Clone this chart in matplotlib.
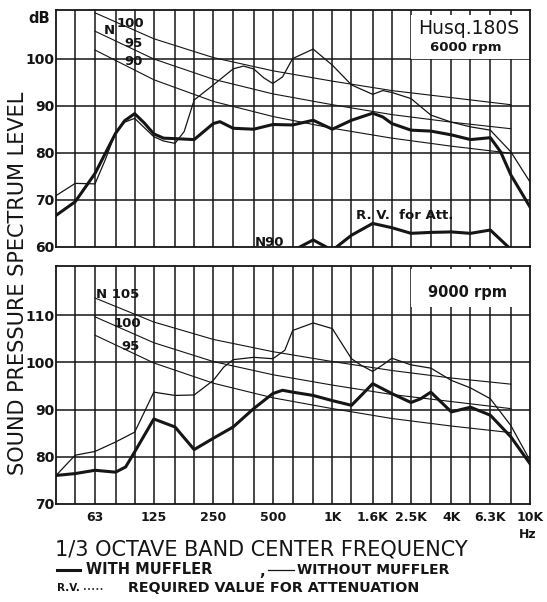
"""Husqvarna 180S 1/3 octave band spectra, with and without muffler."""

import matplotlib
matplotlib.use("Agg")
import matplotlib.pyplot as plt
from matplotlib import font_manager
from matplotlib.lines import Line2D
from matplotlib.patches import Rectangle
from matplotlib.ticker import NullLocator

W, H = 547, 602
INK = "#151515"

BANDS = [40, 50, 63, 80, 100, 125, 160, 200, 250, 315, 400, 500, 630, 800,
         1000, 1250, 1600, 2000, 2500, 3150, 4000, 5000, 6300, 8000, 10000]
TICK_FREQ = [63, 125, 250, 500, 1000, 1600, 2500, 4000, 6300, 10000]
TICK_TEXT = ["63", "125", "250", "500", "1K", "1.6K", "2.5K", "4K", "6.3K", "10K"]

# N curves (1/3 octave levels) at octave centres
OCT = [63, 125, 250, 500, 1000, 2000, 4000, 8000]
N90 = [101.8, 95.5, 90.9, 87.7, 85.2, 83.1, 81.4, 79.9]
N95 = [105.8, 99.9, 95.6, 92.5, 90.2, 88.1, 86.5, 85.1]
N100 = [109.7, 104.2, 100.2, 97.4, 95.2, 93.2, 91.7, 90.2]
N105 = [113.7, 108.6, 104.9, 102.3, 100.2, 98.3, 96.7, 95.4]

# 6000 rpm
TOP_WITH_F = [40, 50, 63, 80, 89, 100, 112, 125, 140, 160, 200, 250, 270, 315,
              400, 500, 630, 800, 1000, 1250, 1600, 1800, 2000, 2500, 3150,
              4000, 5000, 6300, 7100, 8000, 10000]
TOP_WITH_DB = [66.7, 69.6, 75.6, 84.1, 86.8, 88.3, 86.3, 84.0, 83.1, 83.0, 82.8,
               86.2, 86.6, 85.2, 85.0, 86.0, 85.9, 86.9, 85.0, 86.9, 88.4, 87.6,
               86.2, 84.8, 84.6, 83.8, 82.8, 83.2, 80.2, 75.3, 68.5]
TOP_WITHOUT_F = [40, 50, 63, 71, 80, 89, 100, 125, 140, 160, 178, 200, 250, 315,
                 355, 400, 450, 500, 560, 630, 800, 1000, 1250, 1600, 1800, 2000,
                 2500, 3150, 4000, 5000, 6300, 8000, 10000]
TOP_WITHOUT_DB = [70.9, 73.5, 73.4, 78.5, 84.3, 86.5, 87.3, 83.4, 82.5, 82.0,
                  84.5, 91.2, 94.4, 97.8, 98.4, 97.8, 95.9, 94.7, 96.1, 100.0,
                  102.0, 98.6, 94.4, 92.4, 93.2, 92.8, 91.5, 88.0, 86.5, 85.5,
                  84.8, 80.2, 73.8]
RV_F = [630, 800, 1000, 1250, 1600, 2000, 2500, 3150, 4000, 5000, 6300, 8000]
RV_DB = [59.2, 61.5, 59.3, 62.5, 65.0, 64.1, 62.9, 63.1, 63.2, 62.9, 63.6, 59.5]

# 9000 rpm
BOT_WITH_F = [40, 50, 63, 80, 90, 100, 125, 160, 200, 250, 315, 400, 500, 560,
              630, 800, 1000, 1250, 1400, 1600, 2000, 2500, 2800, 3150, 4000,
              5000, 6300, 8000, 10000]
BOT_WITH_DB = [76.0, 76.4, 77.1, 76.7, 77.8, 81.0, 88.0, 86.3, 81.5, 83.9, 86.3,
               90.2, 93.4, 94.1, 93.7, 93.0, 91.9, 90.9, 93.0, 95.5, 93.4, 91.5,
               92.3, 93.7, 89.5, 90.5, 88.8, 84.2, 78.5]
BOT_WITHOUT_F = [40, 50, 63, 80, 100, 112, 125, 160, 200, 250, 282, 315, 400,
                 500, 575, 630, 800, 1000, 1250, 1400, 1600, 1800, 2000, 2500,
                 3150, 4000, 5000, 6300, 8000, 10000]
BOT_WITHOUT_DB = [76.0, 80.3, 81.1, 83.1, 85.2, 89.5, 93.7, 93.0, 93.1, 96.2,
                  99.0, 100.6, 101.1, 100.8, 102.6, 106.8, 108.4, 107.2, 100.8,
                  99.4, 98.1, 99.5, 100.9, 99.5, 98.8, 96.2, 94.6, 92.3, 86.6,
                  79.2]

plt.rcParams["font.family"] = ["DejaVu Sans"]
_names = {f.name for f in font_manager.fontManager.ttflist}
NARROW = "Liberation Sans Narrow" if "Liberation Sans Narrow" in _names else None


def px(x, y):
    return x / W, 1 - y / H


def ftext(fig, x, y, s, **kw):
    kw.setdefault("ha", "center")
    kw.setdefault("va", "center")
    kw.setdefault("color", INK)
    fig.text(*px(x, y), s, **kw)


def panel(ax, lo, hi, yticks):
    ax.set_xscale("log")
    ax.set_xlim(BANDS[0], BANDS[-1])
    ax.set_ylim(lo, hi)
    for f in BANDS[1:-1]:
        ax.axvline(f, color=INK, lw=1.1, zorder=1)
    for v in yticks[1:]:
        ax.axhline(v, color=INK, lw=1.1, zorder=1)
    ax.set_yticks(yticks)
    ax.xaxis.set_minor_locator(NullLocator())
    ax.tick_params(length=0, labelsize=9, colors=INK)
    ax.tick_params(axis="y", pad=1, labelsize=10)
    for lab in ax.get_yticklabels():
        lab.set_fontweight("bold")
    for sp in ax.spines.values():
        sp.set_linewidth(1.3)
        sp.set_color(INK)


def main() -> None:
    fig = plt.figure(figsize=(W / 100, H / 100), dpi=100)
    top = fig.add_axes([56 / W, 1 - 247 / H, 474 / W, 237 / H])
    bot = fig.add_axes([56 / W, 1 - 503.7 / H, 474 / W, 237.7 / H])

    panel(top, 60, 110.3, [60, 70, 80, 90, 100])
    top.xaxis.set_major_locator(NullLocator())
    panel(bot, 70, 120.5, [70, 80, 90, 100, 110])
    bot.set_xticks(TICK_FREQ, TICK_TEXT)
    bot.xaxis.set_minor_locator(NullLocator())
    bot.tick_params(axis="x", pad=5)
    for lab in bot.get_xticklabels():
        lab.set_fontweight("bold")

    # label boxes over the grid
    top.add_patch(Rectangle((2500, 100), BANDS[-1] - 2500, 9.3, facecolor="white",
                            edgecolor="none", zorder=1.5))
    bot.add_patch(Rectangle((2500, 111.8), BANDS[-1] - 2500, 8.0, facecolor="white",
                            edgecolor="none", zorder=1.5))

    for ax, curves in ((top, (N90, N95, N100)), (bot, (N95, N100, N105))):
        for c in curves:
            ax.plot(OCT, c, color=INK, lw=0.8, zorder=3)

    top.plot(TOP_WITHOUT_F, TOP_WITHOUT_DB, color=INK, lw=0.9, zorder=3)
    top.plot(TOP_WITH_F, TOP_WITH_DB, color=INK, lw=2.2, zorder=3.5)
    top.plot(RV_F, RV_DB, color=INK, lw=2.2, zorder=3.5)
    bot.plot(BOT_WITHOUT_F, BOT_WITHOUT_DB, color=INK, lw=0.9, zorder=3)
    bot.plot(BOT_WITH_F, BOT_WITH_DB, color=INK, lw=2.2, zorder=3.5)

    # in-plot annotations
    b = dict(fontweight="bold", fontsize=9.5)
    ftext(fig, 109.5, 31, "N", **b)
    ftext(fig, 130, 23.5, "100", **b)
    ftext(fig, 133.5, 43.5, "95", **b)
    ftext(fig, 134, 61.5, "90", **b)
    ftext(fig, 117.5, 295, "N 105", **b)
    ftext(fig, 127.5, 323.5, "100", **b)
    ftext(fig, 130, 346.5, "95", **b)
    ftext(fig, 270, 242, "N90", fontweight="bold", fontsize=9.5)
    ftext(fig, 405, 215, "R. V.  for Att.", fontweight="bold", fontsize=9.5)
    ftext(fig, 469, 28, "Husq.180S", fontsize=13.5)
    ftext(fig, 466, 47, "6000 rpm", fontweight="bold", fontsize=9.5)
    ftext(fig, 467, 293, "9000 rpm", fontweight="bold", fontsize=10.5)
    ftext(fig, 39, 18.5, "dB", fontweight="bold", fontsize=10.5)
    ftext(fig, 528, 534, "Hz", fontweight="bold", fontsize=9)

    if NARROW:
        ftext(fig, 18, 283, "SOUND PRESSURE SPECTRUM LEVEL", rotation=90,
              family=[NARROW, "DejaVu Sans"], fontsize=18)
    else:
        ftext(fig, 18, 283, "SOUND PRESSURE SPECTRUM LEVEL", rotation=90,
              fontsize=15)
    ftext(fig, 261, 549, "1/3 OCTAVE BAND CENTER FREQUENCY", fontsize=15)

    # legend lines under the axis title
    fig.add_artist(Line2D([57 / W, 80 / W], [1 - 570 / H] * 2, color=INK, lw=2.2))
    ftext(fig, 86, 570, "WITH MUFFLER", ha="left", fontweight="bold", fontsize=10.5)
    ftext(fig, 262, 572, ",", fontweight="bold", fontsize=10.5)
    fig.add_artist(Line2D([268 / W, 294 / W], [1 - 570 / H] * 2, color=INK, lw=0.9))
    ftext(fig, 297, 570, "WITHOUT MUFFLER", ha="left", fontweight="bold", fontsize=10)
    ftext(fig, 57, 588, "R.V.", ha="left", fontweight="bold", fontsize=7.5)
    fig.add_artist(Line2D([84 / W, 104 / W], [1 - 589 / H] * 2, color=INK, lw=1.2,
                          ls=(0, (1, 1.5))))
    ftext(fig, 128, 588, "REQUIRED VALUE FOR ATTENUATION", ha="left",
          fontweight="bold", fontsize=10.3)

    fig.savefig("out.png", dpi=100)
    plt.close(fig)


if __name__ == "__main__":
    main()
